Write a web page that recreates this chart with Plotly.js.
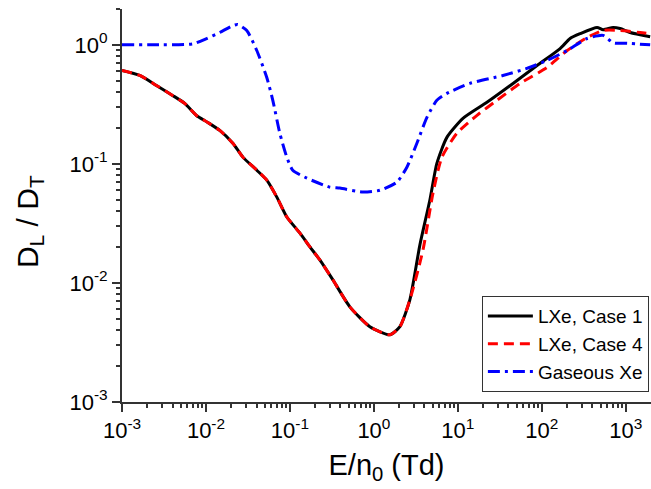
<!DOCTYPE html>
<html><head><meta charset="utf-8">
<script src="https://cdn.plot.ly/plotly-3.0.1.min.js"></script>
<style>html,body{margin:0;padding:0;background:#fff}#plot{width:651px;height:489px}</style>
</head><body><div id="plot"></div>
<script>
// LXe, Case 1
const case1E = [0.001, 0.00163, 0.00257, 0.0040, 0.00558, 0.0077, 0.0105, 0.0146, 0.0209, 0.0275, 0.0403, 0.053, 0.0698, 0.0918, 0.131, 0.173, 0.227, 0.325, 0.517, 0.895, 1.55, 2.04, 2.68, 3.53, 4.64, 5.62, 7.4, 11.5, 22.2, 45.4, 87.7, 165, 217, 285, 455, 537, 706, 855, 1123, 1950];
const case1R = [0.61, 0.553, 0.456, 0.376, 0.322, 0.255, 0.223, 0.191, 0.149, 0.114, 0.0885, 0.073, 0.0526, 0.0358, 0.0263, 0.0201, 0.0156, 0.0106, 0.0063, 0.00429, 0.00367, 0.00429, 0.0072, 0.0209, 0.0497, 0.101, 0.167, 0.241, 0.329, 0.474, 0.671, 0.931, 1.13, 1.24, 1.40, 1.34, 1.40, 1.37, 1.27, 1.17];
// LXe, Case 4
const case4E = [0.001, 0.00163, 0.00257, 0.0040, 0.00558, 0.0077, 0.0105, 0.0146, 0.0209, 0.0275, 0.0403, 0.053, 0.0698, 0.0918, 0.131, 0.173, 0.227, 0.325, 0.517, 0.895, 1.55, 2.04, 2.68, 3.84, 5.05, 6.46, 9.75, 16.9, 29.2, 55, 115, 200, 346, 537, 855, 1480, 1950];
const case4R = [0.61, 0.553, 0.456, 0.376, 0.322, 0.255, 0.223, 0.191, 0.149, 0.114, 0.0885, 0.073, 0.0526, 0.0358, 0.0263, 0.0201, 0.0156, 0.0106, 0.0063, 0.00429, 0.00367, 0.00429, 0.0072, 0.0189, 0.0568, 0.114, 0.181, 0.256, 0.342, 0.474, 0.645, 0.896, 1.15, 1.32, 1.32, 1.27, 1.24];
// Gaseous Xe
const gasE = [0.001, 0.00214, 0.00697, 0.0102, 0.0146, 0.0209, 0.0239, 0.0306, 0.0403, 0.053, 0.0625, 0.0758, 0.0918, 0.108, 0.159, 0.298, 0.393, 0.74, 1.18, 1.88, 2.47, 3.25, 4.28, 5.62, 7.4, 13.9, 34.4, 66.4, 115, 200, 346, 537, 706, 1038, 1950];
const gasR = [1.0, 1.0, 1.02, 1.13, 1.27, 1.45, 1.48, 1.32, 0.896, 0.532, 0.342, 0.181, 0.114, 0.0885, 0.0759, 0.0638, 0.0626, 0.058, 0.060, 0.0703, 0.0938, 0.149, 0.246, 0.342, 0.391, 0.474, 0.553, 0.634, 0.739, 0.896, 1.13, 1.20, 1.04, 1.03, 1.0];

const decadeValsX = [0.001, 0.01, 0.1, 1, 10, 100, 1000];
const decadeTextX = ['10<sup>-3</sup>', '10<sup>-2</sup>', '10<sup>-1</sup>', '10<sup>0</sup>', '10<sup>1</sup>', '10<sup>2</sup>', '10<sup>3</sup>'];
const decadeValsY = [0.001, 0.01, 0.1, 1];
const decadeTextY = ['10<sup>-3</sup>', '10<sup>-2</sup>', '10<sup>-1</sup>', '10<sup>0</sup>'];

function minorVals(lo, hi) {
  const out = [];
  for (let e = lo; e <= hi; e++) for (let m = 2; m <= 9; m++) out.push(m * Math.pow(10, e));
  return out;
}

const font = 'Liberation Sans, Arial, sans-serif';
const traces = [
  {x: case1E, y: case1R, name: 'LXe, Case 1', mode: 'lines', line: {color: '#000000', width: 3, shape: 'spline', smoothing: 0.6}},
  {x: case4E, y: case4R, name: 'LXe, Case 4', mode: 'lines', line: {color: '#ff0000', width: 3, dash: '10px,6px', shape: 'spline', smoothing: 0.6}},
  {x: gasE, y: gasR, name: 'Gaseous Xe', mode: 'lines', line: {color: '#0000ff', width: 3, dash: '12px,5px,3px,5px', shape: 'spline', smoothing: 0.6}}
];

const axisCommon = {
  type: 'log', showgrid: false, zeroline: false, showline: true, linecolor: '#333333', linewidth: 2,
  ticks: 'outside', ticklen: 8, tickwidth: 2, tickcolor: '#333333',
  tickfont: {family: font, size: 22, color: '#000'}
};

const layout = {
  width: 651, height: 489,
  margin: {l: 122, r: 0, t: 9, b: 87},
  paper_bgcolor: '#fff', plot_bgcolor: '#fff',
  showlegend: true,
  legend: {x: 0.996, y: 0.025, xanchor: 'right', yanchor: 'bottom', bordercolor: '#333333', borderwidth: 1,
    bgcolor: '#fff', font: {family: font, size: 19, color: '#000'}, itemwidth: 45, tracegroupgap: 0},
  xaxis: Object.assign({}, axisCommon, {
    range: [-3, 3.3], tickvals: decadeValsX, ticktext: decadeTextX,
    minor: {tickvals: minorVals(-3, 3), ticks: 'outside', ticklen: 4, tickwidth: 2, tickcolor: '#333333'},
    title: {text: 'E/n<sub>0</sub> (Td)', font: {family: font, size: 29, color: '#000'}, standoff: 12}
  }),
  yaxis: Object.assign({}, axisCommon, {
    range: [-3, Math.log10(2)], tickvals: decadeValsY, ticktext: decadeTextY,
    minor: {tickvals: minorVals(-3, 0), ticks: 'outside', ticklen: 4, tickwidth: 2, tickcolor: '#333333'}
  }),
  annotations: [{
    text: 'D<sub>L</sub> / D<sub>T</sub>', textangle: -90, showarrow: false,
    xref: 'paper', yref: 'paper', x: -0.176, y: 0.46, xanchor: 'center', yanchor: 'middle',
    font: {family: font, size: 30, color: '#000'}
  }]
};

Plotly.newPlot('plot', traces, layout, {staticPlot: true, displayModeBar: false});
</script></body></html>
